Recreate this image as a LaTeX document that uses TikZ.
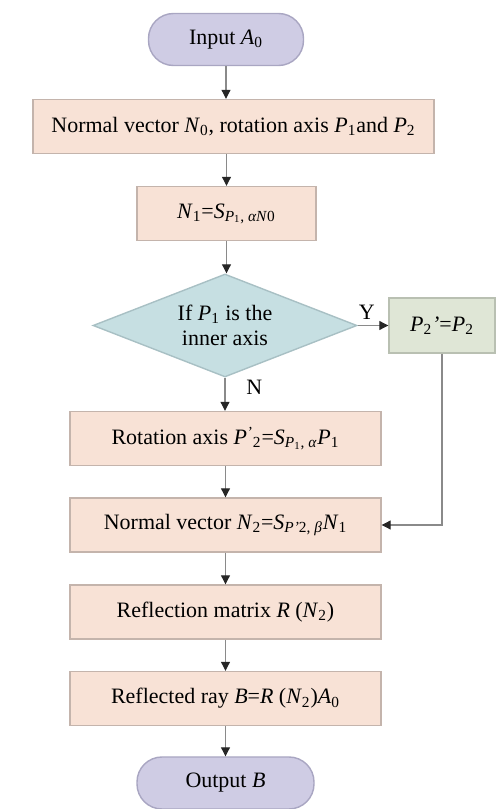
\documentclass[tikz,border=0pt]{standalone}
\usepackage{fontspec}
\setmainfont{Liberation Serif}
\usepackage{tikz}
\usetikzlibrary{shapes.geometric,arrows.meta}

\definecolor{boxfill}{HTML}{F8E2D6}
\definecolor{boxline}{HTML}{C4B4AC}
\definecolor{decfill}{HTML}{C6DFE2}
\definecolor{decline}{HTML}{A8C0C4}
\definecolor{yesfill}{HTML}{DFE6D6}
\definecolor{yesline}{HTML}{B9C0B2}
\definecolor{termfill}{HTML}{CFCCE4}
\definecolor{termline}{HTML}{A9A6C2}
\definecolor{arrline}{HTML}{8A8A8A}

\newcommand{\vi}[2]{\textit{#1}\textsubscript{#2}}

\tikzset{
	procbox/.style={draw=boxline, fill=boxfill, line width=0.8pt, minimum height=1.08cm, inner sep=2pt},
	termbox/.style={draw=termline, fill=termfill, line width=0.8pt, rounded corners=5mm, minimum height=1.04cm},
	decbox/.style={diamond, draw=decline, fill=decfill, line width=0.8pt, aspect=2.56, minimum width=5.28cm, minimum height=2.06cm, inner sep=0pt, align=center},
	yesbox/.style={draw=yesline, fill=yesfill, line width=0.8pt, minimum width=2.12cm, minimum height=1.1cm},
	arr/.style={draw=arrline, line width=0.6pt, -{Triangle[length=1.8mm,width=1.8mm,color=black!85]}}
}

\begin{document}
\begin{tikzpicture}[font=\fontsize{12.5}{14}\selectfont]
	\useasboundingbox (0,0) rectangle (9.92,16.18);
	\node[termbox, minimum width=3.1cm]  (in)   at (4.52,15.39) {Input \vi{A}{0}};
	\node[procbox, minimum width=8.02cm] (nv0)  at (4.67,13.65) {Normal vector \vi{N}{0}, rotation axis \vi{P}{1}and \vi{P}{2}};
	\node[procbox, minimum width=3.58cm] (n1)   at (4.53,11.91) {\vi{N}{1}=\textit{S}\textsubscript{\vi{P}{1}, \textit{αN}0}};
	\node[decbox]                        (dec)  at (4.50,9.67)  {If \vi{P}{1} is the\\inner axis};
	\node[yesbox]                        (p2)   at (8.84,9.67)  {\vi{P}{2}\textit{'}=\vi{P}{2}};
	\node[procbox, minimum width=6.22cm] (rot)  at (4.51,7.41)  {Rotation axis \textit{P}\textsuperscript{\textit{'}}\textsubscript{2}=\textit{S}\textsubscript{\vi{P}{1}, \textit{α}}\vi{P}{1}};
	\node[procbox, minimum width=6.22cm] (nv2)  at (4.51,5.68)  {Normal vector \vi{N}{2}=\textit{S}\textsubscript{\textit{P'}2, \textit{β}}\vi{N}{1}};
	\node[procbox, minimum width=6.22cm] (refm) at (4.51,3.94)  {Reflection matrix \textit{R} (\vi{N}{2})};
	\node[procbox, minimum width=6.22cm] (refr) at (4.51,2.21)  {Reflected ray \textit{B}=\textit{R} (\vi{N}{2})\vi{A}{0}};
	\node[termbox, minimum width=3.54cm] (out)  at (4.51,0.52)  {Output \textit{B}};

	\draw[arr] (in.south) -- (in.south |- nv0.north);
	\draw[arr] (n1.north |- nv0.south) -- (n1.north);
	\draw[arr] (n1.south) -- (n1.south |- dec.north);
	\draw[arr] (dec.east) -- node[above, pos=0.3] {Y} (p2.west);
	\draw[arr] (dec.south) -- node[right=0.3cm, pos=0.3] {N} (dec.south |- rot.north);
	\draw[arr] (p2.south) |- (nv2.east);
	\draw[arr] (rot.south) -- (nv2.north);
	\draw[arr] (nv2.south) -- (refm.north);
	\draw[arr] (refm.south) -- (refr.north);
	\draw[arr] (refr.south) -- (out.north);
\end{tikzpicture}
\end{document}
